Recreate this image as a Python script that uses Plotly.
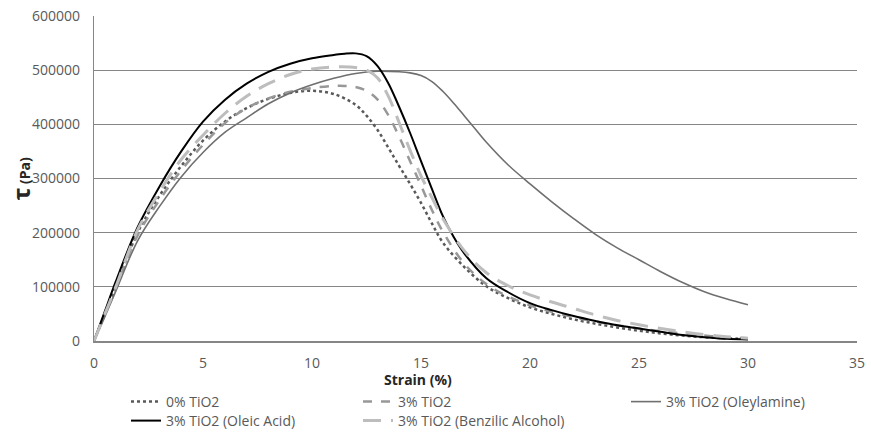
import plotly.graph_objects as go

# ---- data (strain %, shear stress Pa) ----
x_0pct = [0,0.5,1,2,3,4,5,6,7,8,9,10,11,12,12.5,13,13.5,14,14.5,15,15.5,16,17,18,19,20,21,22,23,24,25,26,27,28,29,30]
y_0pct = [0,50000,100000,200000,268000,323000,370000,405000,430000,447000,458000,462000,456000,436000,416000,390000,357000,323000,290000,255000,217000,182000,136000,101000,79000,62000,50000,40000,32000,25000,19000,14000,10000,7000,5000,4000]

x_3pct = [0,0.5,1,2,3,4,5,6,7,8,9,10,11,11.5,12,12.5,13,13.5,14,14.5,15,15.5,16,17,18,19,20,21,22,23,24,25,26,27,28,29,30]
y_3pct = [0,50000,98000,195000,260000,315000,362000,402000,430000,448000,460000,467000,471000,471000,469000,462000,446000,417000,377000,332000,287000,242000,202000,142000,105000,82000,66000,54000,44000,36000,29000,23000,18000,14000,10000,7000,5000]

x_oleyl = [0,0.5,1,2,3,4,5,6,7,8,9,10,11,12,13,14,14.5,15,15.5,16,16.5,17,17.5,18,19,20,21,22,23,24,25,26,27,28,29,30]
y_oleyl = [0,45000,92000,185000,248000,303000,348000,385000,412000,438000,458000,473000,485000,494000,498000,497000,495000,490000,479000,461000,439000,415000,391000,367000,325000,290000,257000,226000,197000,172000,150000,128000,108000,91000,78000,67000]

x_oleic = [0,0.5,1,2,3,4,5,6,7,8,9,10,11,11.5,12,12.5,13,13.5,14,14.5,15,15.5,16,16.5,17,18,19,20,21,22,23,24,25,26,27,28,29,30]
y_oleic = [0,55000,110000,210000,285000,350000,405000,445000,475000,497000,512000,522000,528000,530500,531000,526000,508000,476000,432000,384000,332000,281000,231000,192000,161000,116000,90000,70000,57000,46000,37000,29000,23000,17000,11000,7000,4000,3000]

x_benz = [0,0.5,1,2,3,4,5,6,7,8,9,10,11,12,12.5,13,13.5,14,14.5,15,15.5,16,17,18,19,20,21,22,23,24,25,26,27,28,29,30]
y_benz = [0,50000,100000,205000,275000,335000,380000,420000,452000,475000,492000,502000,506000,505000,500000,486000,452000,403000,352000,305000,265000,226000,166000,126000,102000,85000,72000,60000,48000,38000,30000,23000,17000,12000,8000,5000]

names = ["0% TiO2", "3% TiO2", "3% TiO2 (Oleylamine)", "3% TiO2 (Oleic Acid)", "3% TiO2 (Benzilic Alcohol)"]
x_ticks = [0, 5, 10, 15, 20, 25, 30, 35]
y_ticks = [0, 100000, 200000, 300000, 400000, 500000, 600000]

FONT = "Open Sans"
series = [
    (x_0pct, y_0pct, names[0], dict(color="#595959", width=2.5, dash="dot"), "legend"),
    (x_3pct, y_3pct, names[1], dict(color="#989898", width=2.5, dash="dash"), "legend2"),
    (x_oleyl, y_oleyl, names[2], dict(color="#6f6f6f", width=1.6), "legend3"),
    (x_oleic, y_oleic, names[3], dict(color="#000000", width=2), "legend4"),
    (x_benz, y_benz, names[4], dict(color="#bdbdbd", width=3, dash="18px,10px"), "legend5"),
]

fig = go.Figure()
for xs, ys, nm, ln, lg in series:
    fig.add_trace(go.Scatter(x=xs, y=ys, name=nm, mode="lines",
                             line=dict(shape="spline", smoothing=1.0, **ln), legend=lg))

W, H = 871, 436
L, R, T, B = 94, 14, 16, 95
pw, ph = W - L - R, H - T - B

def px_x(p):
    return (p - L) / pw

def px_y(p):
    return (H - B - p) / ph

leg_font = dict(family=FONT, size=14, color="#595959")
leg_common = dict(font=leg_font, bgcolor="rgba(0,0,0,0)", xanchor="left", yanchor="middle",
                  borderwidth=0, itemwidth=30)
layout_legends = {
    "legend": dict(x=px_x(126), y=px_y(402), **leg_common),
    "legend2": dict(x=px_x(358), y=px_y(402), **leg_common),
    "legend3": dict(x=px_x(626), y=px_y(402), **leg_common),
    "legend4": dict(x=px_x(126), y=px_y(421), **leg_common),
    "legend5": dict(x=px_x(358), y=px_y(421), **leg_common),
}

fig.update_layout(
    width=W, height=H,
    margin=dict(l=L, r=R, t=T, b=B, pad=0, autoexpand=False),
    paper_bgcolor="white", plot_bgcolor="white",
    font=dict(family=FONT, size=14, color="#595959"),
    showlegend=True,
    **layout_legends,
    xaxis=dict(range=[0, 35], tickvals=x_ticks, ticktext=[str(v) for v in x_ticks],
               showgrid=False, zeroline=False, showline=True, linecolor="#868686", linewidth=1.5,
               ticks="", ticklabelstandoff=8, tickfont=dict(family=FONT, size=14, color="#595959")),
    yaxis=dict(range=[0, 600000], tickvals=y_ticks, ticktext=[str(v) for v in y_ticks],
               showgrid=True, gridcolor="#868686", gridwidth=1.2, zeroline=False,
               showline=True, linecolor="#868686", linewidth=1.2,
               ticks="", ticklabelstandoff=10, tickfont=dict(family=FONT, size=14, color="#595959")),
    annotations=[
        dict(text="<b>Strain (%)</b>", x=px_x(418), y=px_y(379), xref="paper", yref="paper",
             xanchor="center", yanchor="middle",
             showarrow=False, font=dict(family=FONT, size=14, color="#262626")),
        dict(text="<b><span style='font-size:24px'>τ</span> (Pa)</b>", x=px_x(20), y=0.5,
             xref="paper", yref="paper", xanchor="center", yanchor="middle",
             textangle=-90, showarrow=False,
             font=dict(family=FONT, size=14, color="#262626")),
    ],
)

fig.write_html("out.html")
